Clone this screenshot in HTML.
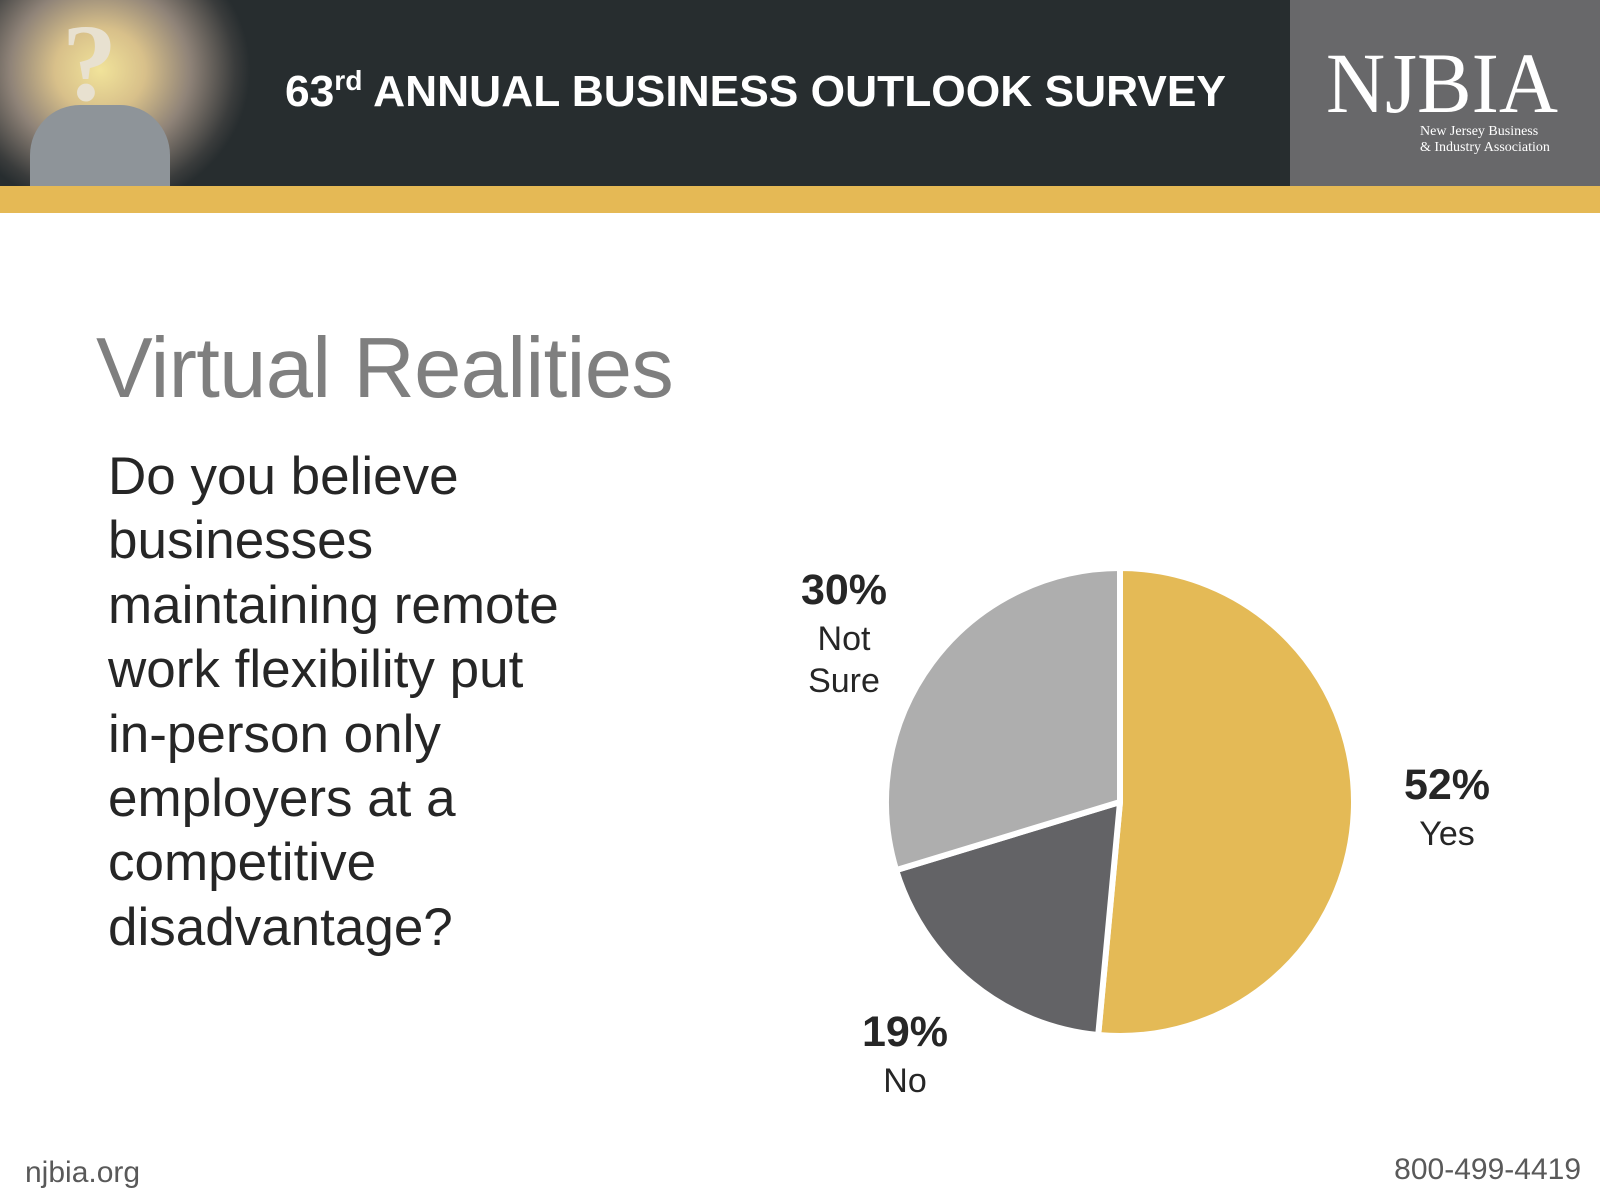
<!DOCTYPE html>
<html><head><meta charset="utf-8">
<style>
html,body{margin:0;padding:0;width:1600px;height:1200px;overflow:hidden;background:#fff;font-family:"Liberation Sans",sans-serif;}
#hdr{position:absolute;left:0;top:0;width:1600px;height:186px;background:#272d2f;}
#photo{position:absolute;left:0;top:0;width:330px;height:186px;background:radial-gradient(ellipse 150px 140px at 100px 70px,#f1e39a 0%,#d8c08a 30%,#8f8378 60%,#3a3c3c 90%,#272d2f 100%);}
#gold{position:absolute;left:0;top:186px;width:1600px;height:27px;background:#e5b955;}
#logo{position:absolute;left:1290px;top:0;width:310px;height:186px;background:#68686a;}
#title{position:absolute;left:96px;top:320px;font-size:85px;color:#7f7f7f;letter-spacing:-0.7px;}
#q{position:absolute;left:108px;top:445px;font-size:53px;line-height:64.4px;color:#262626;}
.ft{position:absolute;font-size:30px;color:#595959;}
</style></head><body>
<div id="hdr">
 <div id="photo">
  <div style="position:absolute;left:30px;top:105px;width:140px;height:81px;background:#8e9499;border-radius:50px 50px 0 0;"></div>
  <div style="position:absolute;left:62px;top:0;font:bold 110px 'Liberation Serif',serif;color:#e8e1d0;">?</div>
 </div>
 <svg style="position:absolute;left:0;top:0" width="1290" height="186">
  <text x="285" y="106" font-family="Liberation Sans" font-weight="bold" font-size="44" fill="#fff" textLength="941" lengthAdjust="spacingAndGlyphs">63<tspan font-size="28" dy="-16">rd</tspan><tspan dy="16"> ANNUAL BUSINESS OUTLOOK SURVEY</tspan></text>
 </svg>
 <div id="logo">
  <svg width="310" height="186">
   <text x="36" y="112" font-family="Liberation Serif" font-size="86" fill="#fff" textLength="232" lengthAdjust="spacingAndGlyphs">NJBIA</text>
   <text x="130" y="135" font-family="Liberation Serif" font-size="14" fill="#fff">New Jersey Business</text>
   <text x="130" y="151" font-family="Liberation Serif" font-size="14" fill="#fff">&amp; Industry Association</text>
  </svg>
 </div>
</div>
<div id="gold"></div>
<div id="title">Virtual Realities</div>
<div id="q">Do you believe<br>businesses<br>maintaining remote<br>work flexibility put<br>in-person only<br>employers at a<br>competitive<br>disadvantage?</div>
<svg id="chart" style="position:absolute;left:0;top:0" width="1600" height="1200"></svg>
<div class="ft" style="left:25px;top:1156px;">njbia.org</div>
<div class="ft" style="right:19px;top:1153px;">800-499-4419</div>
<script>
const categories = ["Yes", "No", "Not Sure"];
const values = [52, 19, 30];
const pctLabels = ["52%", "19%", "30%"];
const colors = ["#e4ba56", "#636366", "#aeaeae"];
const subLabels = [["Yes"], ["No"], ["Not", "Sure"]];
const NS = "http://www.w3.org/2000/svg";
const svg = document.getElementById("chart");
const cx = 1120, cy = 802, r = 234;
const total = values.reduce((a, b) => a + b, 0);
function pt(a, rad) { return [cx + rad * Math.sin(a), cy - rad * Math.cos(a)]; }
let ang = 0;
const labelPos = [[1447, 784], [905, 1031], [844, 589]];
values.forEach((v, i) => {
  const a0 = ang, a1 = ang + v / total * 2 * Math.PI;
  ang = a1;
  const p0 = pt(a0, r), p1 = pt(a1, r);
  const large = (a1 - a0) > Math.PI ? 1 : 0;
  const path = document.createElementNS(NS, "path");
  path.setAttribute("d", `M${cx},${cy} L${p0[0]},${p0[1]} A${r},${r} 0 ${large} 1 ${p1[0]},${p1[1]} Z`);
  path.setAttribute("fill", colors[i]);
  path.setAttribute("stroke", "#fff");
  path.setAttribute("stroke-width", "6");
  path.setAttribute("stroke-linejoin", "round");
  
  
  svg.appendChild(path);
  const [lx, ly] = labelPos[i];
  const t = document.createElementNS(NS, "text");
  t.setAttribute("x", lx); t.setAttribute("y", ly + 15);
  t.setAttribute("text-anchor", "middle");
  t.setAttribute("font-family", "Liberation Sans");
  t.setAttribute("font-weight", "bold");
  t.setAttribute("font-size", "43");
  t.setAttribute("fill", "#262626");
  t.textContent = pctLabels[i];
  
  
  svg.appendChild(t);
  subLabels[i].forEach((s, j) => {
    const u = document.createElementNS(NS, "text");
    u.setAttribute("x", lx); u.setAttribute("y", ly + 61 + j * 42);
    u.setAttribute("text-anchor", "middle");
    u.setAttribute("font-family", "Liberation Sans");
    u.setAttribute("font-size", "34");
    u.setAttribute("fill", "#262626");
    u.textContent = s;
    
    
    svg.appendChild(u);
  });
});
</script>
</body></html>
